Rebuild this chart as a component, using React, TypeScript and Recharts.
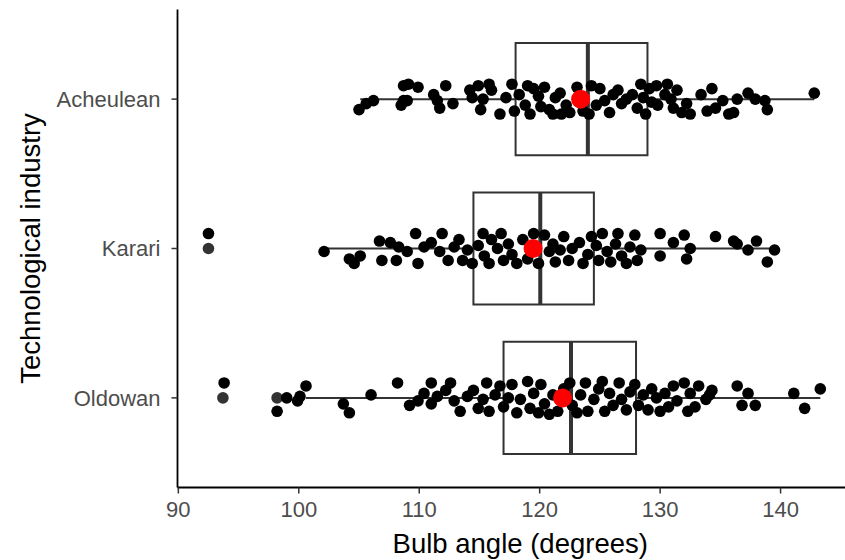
import {
  ScatterChart,
  Scatter,
  XAxis,
  YAxis,
  ReferenceArea,
  ReferenceLine,
} from 'recharts';

const industries = ['Oldowan', 'Karari', 'Acheulean'];
const xTicks = [90, 100, 110, 120, 130, 140];

// [bulb angle, vertical jitter]
const oldowanPoints = [
  [93.8, 0.1], [98.2, -0.09], [99.0, 0], [99.9, -0.02], [100.1, 0.01], [100.6, 0.08],
  [103.7, -0.04], [104.2, -0.1], [106.0, 0.02], [108.2, 0.1], [109.2, -0.05], [109.9, -0.02],
  [110.4, 0.03], [111.0, 0.1], [111.0, -0.04], [111.5, 0.01], [112.2, 0.05], [112.6, 0.1],
  [112.9, -0.02], [113.4, -0.09], [114.0, 0.01], [114.5, 0.05], [114.9, -0.07], [115.3, -0.01],
  [115.6, 0.1], [115.8, -0.09], [116.3, 0.02], [116.7, 0.08], [117.0, -0.06], [117.4, 0],
  [117.7, 0.09], [118.1, -0.1], [118.4, -0.01], [119.0, 0.11], [119.2, -0.07], [119.5, 0.03],
  [119.9, -0.1], [120.1, 0.09], [120.4, -0.04], [120.8, -0.11], [121.1, 0.02], [121.5, -0.09],
  [122.0, 0.06], [122.5, 0.1], [122.7, -0.05], [123.1, -0.1], [123.4, 0.02], [123.8, 0.1],
  [124.0, -0.09], [124.5, -0.01], [124.9, 0.06], [125.2, 0.11], [125.4, -0.09], [125.8, 0.03],
  [126.1, -0.05], [126.6, 0.1], [126.8, -0.01], [127.2, -0.08], [127.5, 0.04], [127.9, 0.09],
  [128.2, -0.05], [128.6, 0.02], [129.0, -0.08], [129.3, 0.06], [129.7, 0], [130.0, -0.09],
  [130.4, 0.03], [130.7, -0.06], [131.1, 0.08], [131.4, -0.02], [132.0, 0.1], [132.3, -0.09],
  [132.5, 0.03], [132.9, -0.06], [133.2, 0.08], [133.8, -0.01], [134.1, 0.02], [134.3, 0.05],
  [136.4, 0.08], [136.8, -0.05], [137.3, 0.03], [137.9, -0.05], [141.1, 0.03], [142.0, -0.07],
  [143.3, 0.06],
];

const karariPoints = [
  [92.5, 0.1], [102.1, -0.02], [104.2, -0.07], [104.6, -0.1], [105.1, -0.05], [106.7, 0.05],
  [106.9, -0.08], [107.6, 0.04], [108.1, -0.08], [108.3, 0.01], [109.0, -0.02], [109.7, 0.1],
  [109.9, -0.1], [110.4, 0.01], [111.0, 0.04], [111.7, -0.02], [111.9, 0.1], [112.4, -0.08],
  [112.9, 0.01], [113.3, 0.06], [113.6, -0.08], [114.0, -0.01], [114.4, -0.1], [114.9, 0.02],
  [115.3, 0.1], [115.4, -0.05], [115.8, -0.1], [116.0, 0.06], [116.5, 0], [116.8, 0.1],
  [117.0, -0.08], [117.4, 0.03], [117.7, -0.04], [118.1, -0.1], [118.6, 0.06], [119.0, -0.07],
  [119.5, 0.1], [119.9, -0.1], [120.4, 0.09], [120.8, -0.02], [121.1, 0.03], [121.3, -0.09],
  [121.7, -0.01], [122.0, 0.08], [122.4, -0.08], [122.7, 0], [123.3, 0.04], [123.6, -0.1],
  [124.0, -0.04], [124.3, 0.08], [124.7, 0.02], [124.9, -0.08], [125.2, 0.1], [125.6, -0.02],
  [125.9, -0.09], [126.3, 0.03], [126.5, 0.1], [126.8, -0.05], [127.2, -0.1], [127.5, 0.01],
  [127.9, 0.09], [128.1, -0.08], [128.4, -0.01], [130.0, 0.1], [130.0, -0.05], [131.1, 0.04],
  [132.0, 0.09], [132.2, -0.07], [132.5, 0], [134.6, 0.08], [136.1, 0.05], [136.4, 0.03],
  [137.3, -0.01], [138.0, 0.05], [138.9, -0.09], [139.5, -0.01],
];

const acheuleanPoints = [
  [105.0, -0.07], [105.6, -0.03], [106.2, -0.01], [108.7, 0.09], [109.1, 0.1], [109.9, 0.08],
  [108.7, -0.01], [108.5, -0.04], [109.0, -0.01], [111.2, 0.03], [111.7, -0.06], [112.2, 0.09],
  [112.8, -0.03], [111.5, -0.01], [114.2, 0.06], [114.4, 0.01], [114.9, 0.09], [115.1, -0.07],
  [115.3, 0], [115.8, 0.1], [116.0, 0.06], [116.7, -0.1], [117.2, 0.01], [117.7, 0.1],
  [117.9, -0.08], [118.3, 0.03], [118.8, -0.04], [119.0, 0.09], [119.2, -0.1], [119.5, 0.07],
  [119.9, 0.02], [120.1, -0.05], [120.4, 0.08], [120.8, -0.07], [121.1, -0.1], [121.3, 0.01],
  [121.7, 0.04], [121.8, -0.1], [122.2, -0.04], [122.5, -0.09], [123.1, 0.08], [123.3, -0.02],
  [123.6, -0.08], [124.1, -0.1], [124.3, 0.09], [124.7, -0.04], [125.0, 0.07], [125.4, -0.01],
  [125.8, -0.09], [126.1, 0.03], [126.5, 0.06], [126.8, -0.03], [127.2, 0], [127.7, 0.03],
  [128.1, -0.06], [128.4, 0.1], [128.6, 0.01], [128.8, -0.1], [129.1, 0.07], [129.3, -0.02],
  [129.7, 0.09], [129.8, -0.04], [130.4, 0.03], [130.6, 0.1], [130.9, 0], [131.1, -0.06],
  [131.4, 0.06], [131.8, -0.09], [132.2, -0.03], [132.5, -0.1], [133.4, 0.03], [133.9, -0.08],
  [134.3, 0.07], [134.6, -0.06], [135.2, -0.01], [135.7, -0.1], [136.1, -0.09], [136.4, 0],
  [137.3, 0.04], [137.9, 0], [138.7, -0.01], [138.9, -0.07], [142.8, 0.04],
];

// [lower whisker, q1, median, q3, upper whisker]
const boxStats = [
  [100.6, 117.0, 122.6, 128.0, 143.3],
  [102.1, 114.5, 120.05, 124.5, 139.5],
  [105.1, 118.0, 124.0, 128.95, 142.8],
];
const outlierValues = [[93.7, 98.2], [92.5], []];
const means = [121.9, 119.45, 123.4];

const groups = [oldowanPoints, karariPoints, acheuleanPoints];
const jitterData = groups.flatMap((pts, i) => pts.map(([x, j]) => ({ x, y: i + 1 + j })));
const outlierData = outlierValues.flatMap((vals, i) => vals.map((x) => ({ x, y: i + 1 })));
const meanData = means.map((x, i) => ({ x, y: i + 1 }));

const half = 0.375;
const boxColor = '#333333';

const dot = (fill: string, r: number) => (props: any) => (
  <circle cx={props.cx} cy={props.cy} r={r} fill={fill} />
);

export default function App() {
  return (
    <div style={{ position: 'absolute', left: 0, top: 0, fontFamily: '"Liberation Sans", Arial, sans-serif' }}>
      <ScatterChart width={845} height={560} margin={{ top: 9.5, right: 0, bottom: 0, left: 0 }}>
        <XAxis
          type="number"
          dataKey="x"
          domain={[89.93, 145.35]}
          allowDataOverflow
          ticks={xTicks}
          interval={0}
          height={72.5}
          axisLine={{ stroke: '#000', strokeWidth: 1.8 }}
          tickLine={{ stroke: '#333', strokeWidth: 1.5 }}
          tickSize={6}
          tickMargin={8}
          tick={{ fill: '#4d4d4d', fontSize: 22 }}
          label={{ value: 'Bulb angle (degrees)', position: 'center', dx: 9, dy: 19, fill: '#000', fontSize: 27.5 }}
        />
        <YAxis
          type="number"
          dataKey="y"
          domain={[0.4, 3.6]}
          allowDataOverflow
          ticks={[1, 2, 3]}
          tickFormatter={(v: number) => industries[v - 1]}
          width={177.5}
          axisLine={{ stroke: '#000', strokeWidth: 1.8 }}
          tickLine={{ stroke: '#333', strokeWidth: 1.5 }}
          tickSize={6}
          tickMargin={11}
          tick={{ fill: '#4d4d4d', fontSize: 22 }}
          label={{ value: 'Technological industry', angle: -90, position: 'center', dx: -59, fill: '#000', fontSize: 27.5 }}
        />
        {boxStats.map(([lo, q1, med, q3, hi], i) => (
          <ReferenceArea
            key={`box-${i}`}
            x1={q1}
            x2={q3}
            y1={i + 1 - half}
            y2={i + 1 + half}
            fill="none"
            stroke={boxColor}
            strokeWidth={2}
            fillOpacity={0}
          />
        ))}
        {boxStats.map(([lo, q1, med, q3, hi], i) => (
          <ReferenceLine
            key={`wl-${i}`}
            segment={[{ x: lo, y: i + 1 }, { x: q1, y: i + 1 }]}
            stroke={boxColor}
            strokeWidth={2}
          />
        ))}
        {boxStats.map(([lo, q1, med, q3, hi], i) => (
          <ReferenceLine
            key={`wh-${i}`}
            segment={[{ x: q3, y: i + 1 }, { x: hi, y: i + 1 }]}
            stroke={boxColor}
            strokeWidth={2}
          />
        ))}
        {boxStats.map(([lo, q1, med, q3, hi], i) => (
          <ReferenceLine
            key={`md-${i}`}
            segment={[{ x: med, y: i + 1 - half }, { x: med, y: i + 1 + half }]}
            stroke={boxColor}
            strokeWidth={4}
          />
        ))}
        <Scatter data={outlierData} shape={dot('#333333', 5.8)} isAnimationActive={false} />
        <Scatter data={jitterData} shape={dot('#000000', 5.8)} isAnimationActive={false} />
        <Scatter data={meanData} shape={dot('#ff0000', 9.5)} isAnimationActive={false} />
      </ScatterChart>
    </div>
  );
}
